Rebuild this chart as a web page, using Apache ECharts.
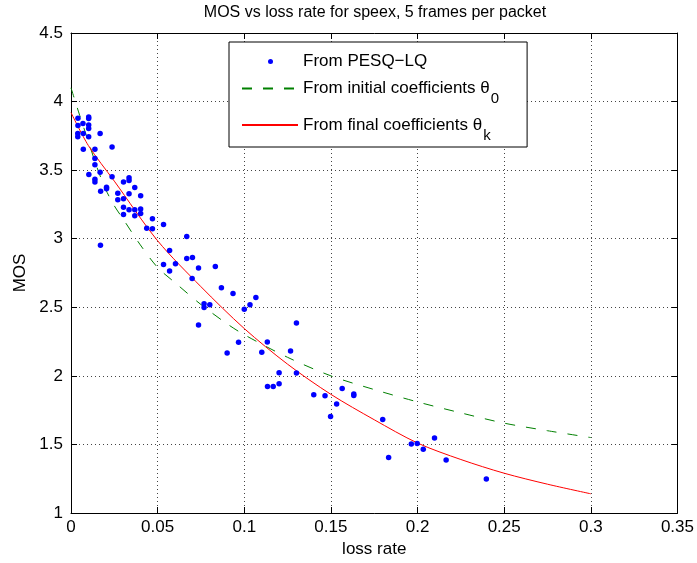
<!DOCTYPE html>
<html>
<head>
<meta charset="utf-8">
<script src="https://cdn.jsdelivr.net/npm/echarts@6/dist/echarts.min.js"></script>
<style>
html,body{margin:0;padding:0;background:#fff;}
#chart{width:697px;height:563px;}
</style>
</head>
<body>
<div id="chart"></div>
<script>
// ---- data ----
var titleText = 'MOS vs loss rate for speex, 5 frames per packet';
var xAxisName = 'loss rate';
var yAxisName = 'MOS';
var xMin = 0, xMax = 0.35, xStep = 0.05;
var yMin = 1, yMax = 4.5, yStep = 0.5;

var legendNames = ['From PESQ\u2212LQ', 'From initial coefficients \u03b8', 'From final coefficients \u03b8'];
var legendSubs = ['', '0', 'k'];

var pesqLoss = [0.0040,0.0102,0.0102,0.0069,0.0040,0.0102,0.0102,0.0039,0.0039,0.0071,
  0.0102,0.0168,0.0071,0.0138,0.0237,0.0138,0.0138,0.0103,0.0168,0.0138,
  0.0138,0.0237,0.0335,0.0335,0.0303,0.0205,0.0205,0.0171,0.0368,0.0270,
  0.0335,0.0402,0.0270,0.0303,0.0303,0.0335,0.0368,0.0402,0.0402,0.0303,
  0.0368,0.0470,0.0534,0.0437,0.0470,0.0170,0.0668,0.0569,0.0534,0.0603,
  0.0668,0.0701,0.0569,0.0736,0.0833,0.0699,0.0736,0.0868,0.0935,0.1067,
  0.1033,0.1000,0.0768,0.0768,0.0801,0.1301,0.0967,0.0901,0.1101,0.1133,
  0.1267,0.1201,0.1301,0.1134,0.1167,0.1201,0.1401,0.1466,0.1565,0.1533,
  0.1632,0.1632,0.1498,0.1799,0.1833,0.1964,0.1998,0.2033,0.2098,0.2165,0.2397];
var pesqMos = [3.879,3.888,3.876,3.840,3.825,3.830,3.803,3.767,3.743,3.767,
  3.743,3.767,3.653,3.653,3.668,3.585,3.539,3.468,3.485,3.434,
  3.413,3.451,3.444,3.424,3.413,3.376,3.364,3.347,3.373,3.332,
  3.327,3.313,3.284,3.291,3.230,3.211,3.211,3.216,3.184,3.176,
  3.167,3.145,3.104,3.077,3.072,2.952,3.016,2.914,2.812,2.817,
  2.856,2.863,2.764,2.786,2.797,2.710,2.370,2.642,2.601,2.571,
  2.518,2.485,2.526,2.499,2.518,2.385,2.245,2.166,2.172,2.247,
  2.181,2.023,2.020,1.923,1.923,1.942,1.862,1.855,1.908,1.795,
  1.868,1.857,1.704,1.681,1.405,1.503,1.507,1.464,1.547,1.386,1.248];

var initLoss = [0,0.005,0.01,0.015,0.02,0.025,0.03,0.04,0.05,0.06,0.075,0.09,0.1,0.125,0.15,0.175,0.2,0.225,0.25,0.275,0.3];
var initMos  = [4.10,3.90,3.71,3.52,3.36,3.24,3.145,2.955,2.79,2.68,2.52,2.38,2.30,2.135,2.00,1.90,1.81,1.73,1.655,1.60,1.55];

var finalLoss = [0,0.01,0.025,0.05,0.075,0.1,0.125,0.15,0.175,0.2,0.225,0.25,0.275,0.3];
var finalMos  = [3.92,3.68,3.42,2.985,2.65,2.345,2.085,1.865,1.68,1.51,1.39,1.29,1.21,1.14];

function zip(a, b) { return a.map(function (v, i) { return [v, b[i]]; }); }

var FONT = 'Liberation Sans, Arial, Helvetica, sans-serif';
var chart = echarts.init(document.getElementById('chart'), null, {renderer: 'canvas'});

var gridDots = {show: true, lineStyle: {color: '#444', type: [1, 3], width: 1}};
var tickIn = {show: true, inside: true, length: 6, lineStyle: {color: '#000'}};
var axLine = {show: true, onZero: false, lineStyle: {color: '#000', width: 1}};

var option = {
  backgroundColor: '#fff',
  animation: false,
  title: {
    text: titleText, left: 370, top: 0, textAlign: 'center',
    textStyle: {fontFamily: FONT, fontSize: 16, fontWeight: 'normal', color: '#000'}
  },
  grid: {left: 71, right: 17, top: 33, bottom: 50, containLabel: false},
  legend: {
    orient: 'vertical', left: 229, top: 42,
    itemWidth: 56, itemHeight: 14, itemGap: 10,
    padding: [11, 28, 4, 12],
    backgroundColor: '#fff', borderColor: '#000', borderWidth: 1,
    textStyle: {
      fontFamily: FONT, fontSize: 17, color: '#000',
      rich: {
        sub: {fontFamily: FONT, fontSize: 15, color: '#000', lineHeight: 36, verticalAlign: 'bottom', padding: [0, 0, 0, 1]}
      }
    },
    data: [
      {name: legendNames[0], icon: 'path://M0,0M56,14M31,7A2.5,2.5,0,1,1,26,7A2.5,2.5,0,1,1,31,7Z'},
      {name: legendNames[1], itemStyle: {opacity: 0}},
      {name: legendNames[2], itemStyle: {opacity: 0}}
    ],
    formatter: function (name) {
      var i = legendNames.indexOf(name);
      return legendSubs[i] ? name + '{sub|' + legendSubs[i] + '}' : name;
    }
  },
  xAxis: [{
    type: 'value', min: xMin, max: xMax, interval: xStep, position: 'bottom',
    name: xAxisName, nameLocation: 'middle', nameGap: 26,
    nameTextStyle: {fontFamily: FONT, fontSize: 17, color: '#000'},
    axisLine: axLine, axisTick: tickIn, splitLine: gridDots,
    axisLabel: {fontFamily: FONT, fontSize: 17, color: '#000', margin: 6}
  }, {
    type: 'value', min: xMin, max: xMax, interval: xStep, position: 'top',
    axisLine: axLine, axisTick: tickIn, splitLine: {show: false}, axisLabel: {show: false}
  }],
  yAxis: [{
    type: 'value', min: yMin, max: yMax, interval: yStep, position: 'left',
    name: yAxisName, nameLocation: 'middle', nameGap: 38, nameRotate: 90,
    nameTextStyle: {fontFamily: FONT, fontSize: 17, color: '#000'},
    axisLine: axLine, axisTick: tickIn, splitLine: gridDots,
    axisLabel: {fontFamily: FONT, fontSize: 17, color: '#000', margin: 8}
  }, {
    type: 'value', min: yMin, max: yMax, interval: yStep, position: 'right',
    axisLine: axLine, axisTick: tickIn, splitLine: {show: false}, axisLabel: {show: false}
  }],
  series: [{
    name: legendNames[0], type: 'scatter', xAxisIndex: 0, yAxisIndex: 0,
    data: zip(pesqLoss, pesqMos), symbol: 'circle', symbolSize: 5.5,
    itemStyle: {color: '#0000ff', opacity: 1}, z: 3
  }, {
    name: legendNames[1], type: 'line', xAxisIndex: 0, yAxisIndex: 0,
    data: zip(initLoss, initMos), smooth: 0.3, showSymbol: false, symbol: 'none',
    lineStyle: {color: '#008000', width: 1, type: [10, 11]}, itemStyle: {color: '#008000'}, z: 2
  }, {
    name: legendNames[2], type: 'line', xAxisIndex: 0, yAxisIndex: 0,
    data: zip(finalLoss, finalMos), smooth: 0.3, showSymbol: false, symbol: 'none',
    lineStyle: {color: '#ff0000', width: 1, type: 'solid'}, itemStyle: {color: '#ff0000'}, z: 2
  }]
};
chart.setOption(option);
</script>
</body>
</html>
